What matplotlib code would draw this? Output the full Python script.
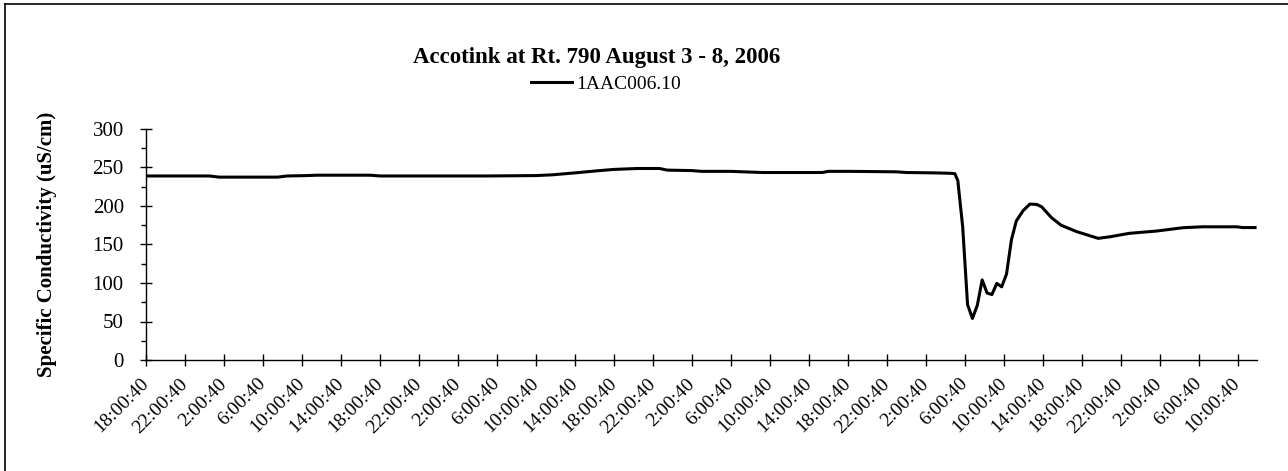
import matplotlib.pyplot as plt
from matplotlib.lines import Line2D
from matplotlib.ticker import MultipleLocator

# hours since Aug 3 18:00:40 and specific conductivity (uS/cm)
hours = [0, 6.5, 7.5, 13.5, 14.5, 16.5, 17.5, 23, 24, 35, 40, 41.7, 44, 46.3, 48,
         50.4, 52.7, 53.5, 56, 57, 60, 61, 63.3, 69.4, 70, 72.2, 77, 78, 81, 82.5,
         83.0, 83.3, 83.8, 84.3, 84.8, 85.3, 85.8, 86.3, 86.8, 87.3, 87.8, 88.3,
         88.8, 89.3, 90.0, 90.7, 91.4, 91.9, 92.9, 93.9, 95.5, 97.7, 98.9, 100.9,
         103.7, 106.4, 108.4, 111.9, 112.5, 113.8]
cond = [239, 239, 237.5, 237.5, 239, 239.5, 240, 240, 239, 239, 239.5, 240.5, 243, 245.7, 247.5,
        248.7, 248.7, 246.6, 246, 245, 245, 244.5, 243.5, 243.5, 245, 245, 244.4, 243.5, 243, 242.5,
        242, 233, 173, 72, 54, 71, 104, 87, 85, 99.5, 95, 111.7,
        156, 180.5, 194, 202.5, 202, 199, 185, 175, 166.7, 158, 160, 164.5,
        167.5, 171.8, 173, 173, 172, 172]

tick_hours = list(range(0, 113, 4))
tick_labels = ['18:00:40', '22:00:40', '2:00:40', '6:00:40', '10:00:40', '14:00:40'] * 5
tick_labels = tick_labels[:len(tick_hours)]

plt.rcParams['font.family'] = ['Liberation Serif', 'DejaVu Serif']

fig = plt.figure(figsize=(12.88, 4.71), dpi=100)
ax = fig.add_axes([146 / 1288, 111 / 471, 1111 / 1288, 231 / 471])

ax.plot(hours, cond, color='black', linewidth=2.2, label='1AAC006.10')

ax.set_xlim(0, 114)
ax.set_ylim(0, 300)
ax.yaxis.set_major_locator(MultipleLocator(50))
ax.yaxis.set_minor_locator(MultipleLocator(25))
ax.set_xticks(tick_hours)
ax.set_xticklabels(tick_labels, rotation=45, ha='right', va='center', rotation_mode='anchor')

for s in ['top', 'right']:
    ax.spines[s].set_visible(False)
ax.spines['left'].set_linewidth(1.0)
ax.spines['bottom'].set_linewidth(1.0)
ax.tick_params(axis='y', which='major', direction='inout', length=8, width=1, pad=12, labelsize=15)
ax.tick_params(axis='y', which='minor', direction='out', length=3.5, width=1)
ax.tick_params(axis='x', which='major', direction='inout', length=8.5, width=1, pad=11, labelsize=14)

ax.set_ylabel('Specific Conductivity (uS/cm)', fontsize=15, fontweight='bold')
ax.yaxis.set_label_coords(-0.080, 0.5)

fig.text(597 / 1288, 1 - 57 / 471, 'Accotink at Rt. 790 August 3 - 8, 2006',
         ha='center', va='center', fontsize=16.5, fontweight='bold')
fig.legend(loc='center', bbox_to_anchor=(606 / 1288, 1 - 84 / 471), frameon=False,
           fontsize=14, handlelength=2.1, handletextpad=0.2)

# chart area border (only top and left edges fall inside the picture)
fig.add_artist(Line2D([5 / 1288, 1], [1 - 4 / 471, 1 - 4 / 471], color='black', linewidth=1.2))
fig.add_artist(Line2D([5 / 1288, 5 / 1288], [0, 1 - 4 / 471], color='black', linewidth=1.2))

fig.savefig('out.png', dpi=100)
